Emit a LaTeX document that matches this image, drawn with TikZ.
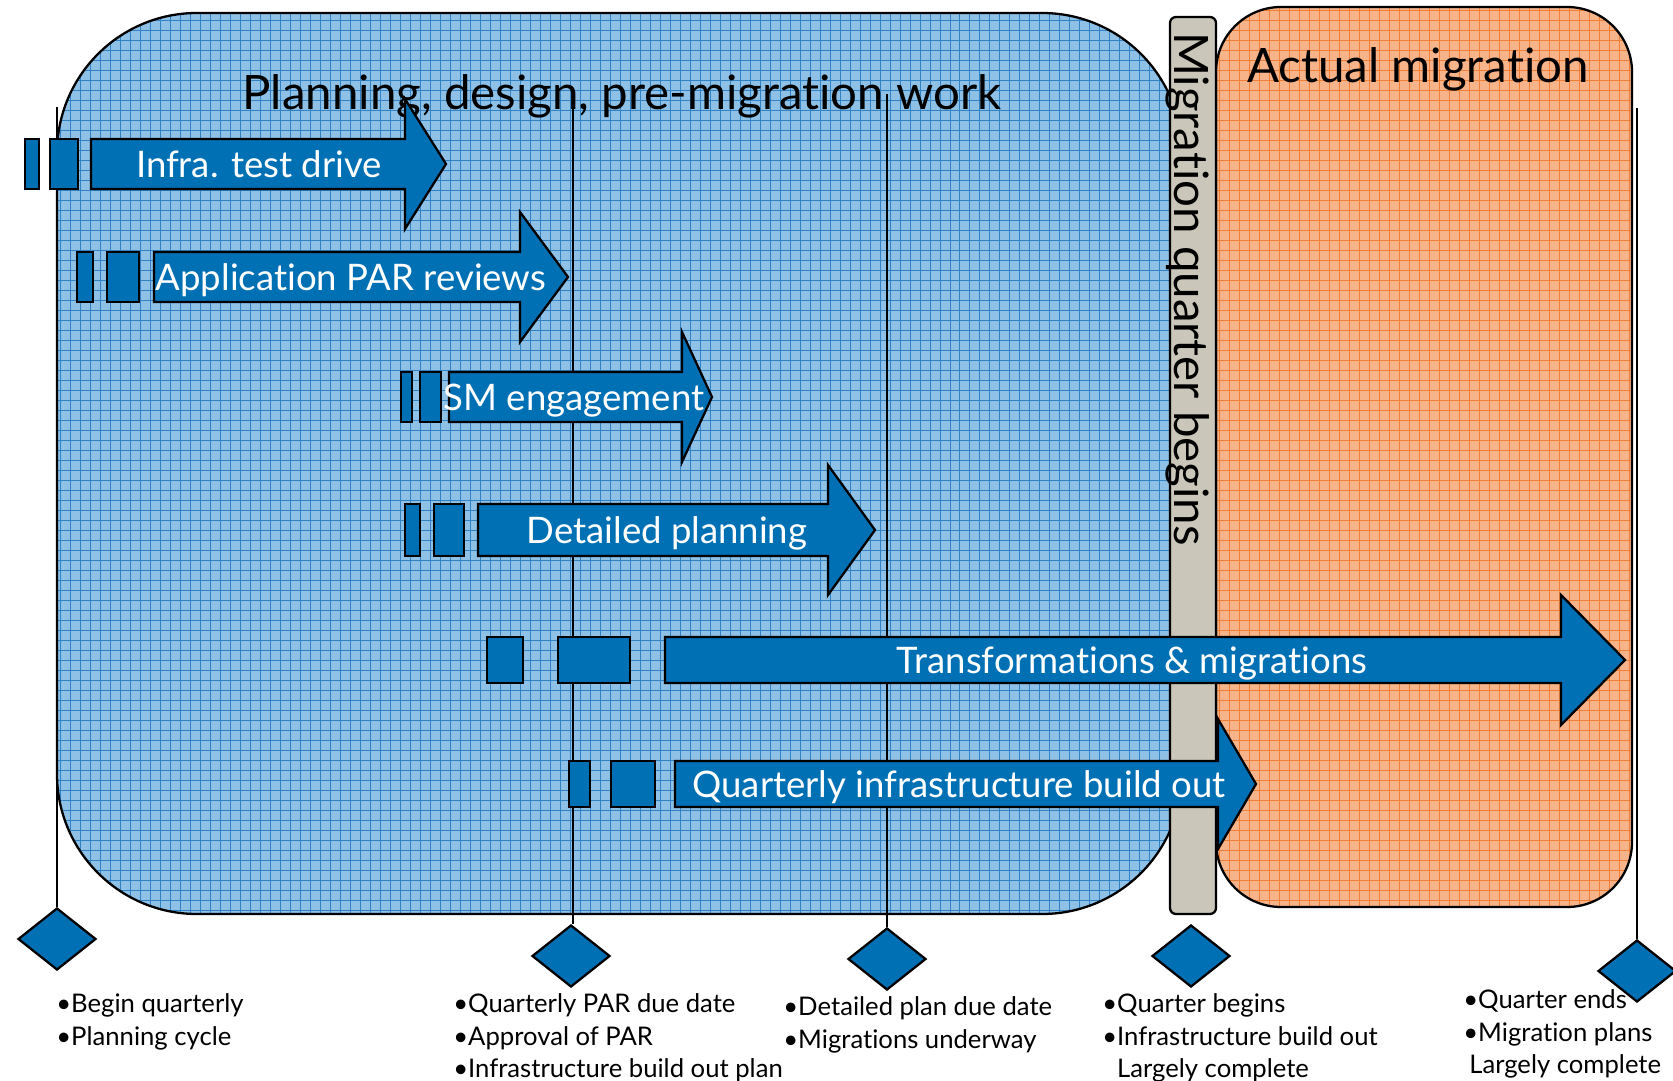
\documentclass[tikz,border=0pt]{standalone}
\usepackage{fontspec}
\setmainfont{Lato}[Ligatures=NoCommon]
\usetikzlibrary{shapes.geometric}
\definecolor{planblue}{HTML}{8FC1E6}
\definecolor{plangrid}{HTML}{3182C4}
\definecolor{migorange}{HTML}{F7B48A}
\definecolor{miggrid}{HTML}{F07F35}
\definecolor{phaseblue}{HTML}{0070B5}
\definecolor{qgray}{HTML}{CAC7BA}
% a phase: two lead boxes and a block arrow
% #1 centre y, #2 half height, #3-#6 boxes, #7 start, #8 head base, #9 tip
\newcommand{\phase}[9]{
  \begin{scope}[shift={(0,#1)}]
    \draw [bar] (#3,-#2) rectangle (#4,#2);
    \draw [bar] (#5,-#2) rectangle (#6,#2);
    \draw [bar] (#7,-#2) -- (#8,-#2) -- (#8,-65) -- (#9,0)
                -- (#8,65) -- (#8,#2) -- (#7,#2) -- cycle;
  \end{scope}}

\begin{document}
\begin{tikzpicture}
[x=0.02cm,y=-0.02cm,
bar/.style={draw=black,line width=1.3pt,fill=phaseblue,line join=miter},
milestone/.style={shape=diamond,draw=black,line width=1.3pt,fill=phaseblue,
  minimum width=1.56cm,minimum height=1.24cm,inner sep=0pt},
guide/.style={line width=1.4pt},
heading/.style={black,font=\fontsize{27}{32}\selectfont,anchor=base},
arrowtext/.style={white,font=\fontsize{20.8}{25}\selectfont,anchor=base},
note/.style={align=left,anchor=north west,inner sep=0pt,
  font=\fontsize{14.6}{18.7}\selectfont}]

\useasboundingbox (0,0) rectangle (1673,1081);

% planning area
\begin{scope}
  \clip [rounded corners=2.8cm] (57,13) rectangle (1182,914);
  \fill [planblue] (57,13) rectangle (1182,914);
  \draw [plangrid,line width=0.35pt,step=0.2cm] (57,914) grid (1182,13);
\end{scope}
\draw [line width=1.3pt,rounded corners=2.8cm] (57,13) rectangle (1182,914);

% migration area
\begin{scope}
  \clip [rounded corners=1.3cm] (1216,7) rectangle (1632,907);
  \fill [migorange] (1216,7) rectangle (1632,907);
  \draw [miggrid,line width=0.35pt,step=0.2cm] (1216,907) grid (1632,7);
\end{scope}
\draw [line width=1.3pt,rounded corners=1.3cm] (1216,7) rectangle (1632,907);

\node (plan) [heading] at (622,110) {Planning, design, pre-migration work};
\node (actual) [heading] at (1418,83) {Actual migration};

% milestones
\node (m1) [milestone] at (57,939) {};
\node (m2) [milestone] at (571,956) {};
\node (m3) [milestone] at (887,959) {};
\node (m4) [milestone] at (1191,956) {};
\node (m5) [milestone] at (1637,971) {};
\coordinate (t1) at (57,107);
\coordinate (t2) at (573,94);
\coordinate (t3) at (887,94);
\coordinate (t5) at (1637,108);
\draw [guide] (t1) -- (m1);
\draw [guide] (t2) -- (t2 |- m2.north);
\draw [guide] (t3) -- (m3);
\draw [guide] (t5) -- (m5);

% quarter bar
\draw [line width=1.3pt,fill=qgray,rounded corners=0.12cm]
      (1170,17) rectangle (1216,914);
\node (qtext) [heading,rotate=-90,anchor=base west] at (1174,26)
      {Migration quarter begins};

% phases
\phase{164}{25}{25}{39}{50}{78}{91}{405}{446}
\phase{277}{25}{77}{93}{107}{139}{154}{520}{568}
\phase{397}{25}{401}{412}{420}{441}{449}{682}{712}
\phase{530}{26}{405}{420}{434}{464}{478}{828}{875}
\phase{660}{23}{487}{523}{558}{630}{665}{1561}{1625}
\phase{784}{23}{569}{590}{611}{655}{675}{1218}{1256}

\node (infra) [arrowtext] at (259,178) {Infra. test drive};
\node (par) [arrowtext] at (351,291) {Application PAR reviews};
\node (sm) [arrowtext] at (574,410) {SM engagement};
\node (detail) [arrowtext] at (667,543) {Detailed planning};
\node (transf) [arrowtext] at (1132,673) {Transformations \& migrations};
\node (build) [arrowtext] at (959,797) {Quarterly infrastructure build out};

% notes under the milestones
\node (n1) [note] at (56,993) {•Begin quarterly\\•Planning cycle};
\node (n2) [note] at (453,993) {•Quarterly PAR due date\\•Approval of PAR\\
  •Infrastructure build out plan};
\node (n3) [note] at (783,996) {•Detailed plan due date\\•Migrations underway};
\node (n4) [note] at (1102,993) {•Quarter begins\\•Infrastructure build out\\
  \phantom{•}Largely complete};
\node (n5) [note] at (1463,989) {•Quarter ends\\•Migration plans\\
  \hspace*{0.12cm}Largely complete};
\end{tikzpicture}
\end{document}
